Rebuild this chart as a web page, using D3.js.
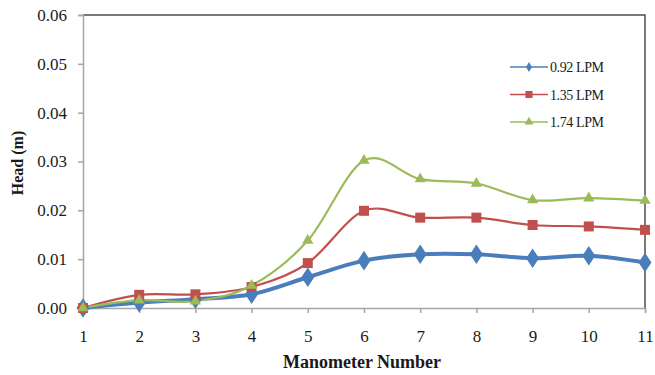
<!DOCTYPE html>
<html>
<head>
<meta charset="utf-8">
<script src="https://cdn.jsdelivr.net/npm/d3@7"></script>
<style>
  html, body { margin: 0; padding: 0; background: #fff; }
  svg { display: block; }
  text { font-family: "Liberation Serif", "Times New Roman", serif; fill: #1a1a1a; }
</style>
</head>
<body>
<svg id="chart" width="655" height="375"></svg>
<script>
// Manometer positions along the pipe
const manometers = [1, 2, 3, 4, 5, 6, 7, 8, 9, 10, 11];

// Head readings (m) for each flow rate
const head092 = [0.0000, 0.0011, 0.0018, 0.0028, 0.0063, 0.0097, 0.0110, 0.0110, 0.0102, 0.0107, 0.0093];
const head135 = [0.0000, 0.0027, 0.0028, 0.0043, 0.0092, 0.0199, 0.0185, 0.0185, 0.0170, 0.0167, 0.0160];
const head174 = [0.0000, 0.0016, 0.0014, 0.0046, 0.0138, 0.0302, 0.0264, 0.0255, 0.0221, 0.0225, 0.0220];

const seriesNames = ["0.92 LPM", "1.35 LPM", "1.74 LPM"];
const yTicks = [0, 0.01, 0.02, 0.03, 0.04, 0.05, 0.06];

const series = [
  { name: seriesNames[0], values: head092, color: "#4A7EBB", width: 4, symbol: d3.symbolDiamond, size: 110, legendSize: 30, legendWidth: 1.3 },
  { name: seriesNames[1], values: head135, color: "#C0504D", width: 2.2, symbol: d3.symbolSquare, size: 100, legendSize: 50, legendWidth: 1.3 },
  { name: seriesNames[2], values: head174, color: "#9BBB59", width: 2.2, symbol: d3.symbolTriangle, size: 55, legendSize: 35, legendWidth: 1.3 }
];

const svg = d3.select("#chart");
const plotLeft = 83, plotRight = 645, plotTop = 15, plotBottom = 308;

const x = d3.scaleLinear().domain([1, 11]).range([plotLeft, plotRight]);
const y = d3.scaleLinear().domain([0, 0.06]).range([plotBottom, plotTop]);

// Plot frame: dark top and right edges
svg.append("path")
  .attr("d", `M${plotLeft},${plotTop}H${plotRight}V${plotBottom}`)
  .attr("fill", "none")
  .attr("stroke", "#4d4d4d")
  .attr("stroke-width", 1.5);

// Y axis
const yAxis = svg.append("g")
  .attr("transform", `translate(${plotLeft},0)`)
  .call(d3.axisLeft(y).tickValues(yTicks).tickFormat(d3.format(".2f")).tickSize(5).tickPadding(11));
yAxis.selectAll("path, line").attr("stroke", "#a6a6a6").attr("stroke-width", 1.5);
yAxis.selectAll("text")
  .style("font-family", "'Liberation Serif', 'Times New Roman', serif")
  .style("font-size", "17px").attr("fill", "#1a1a1a");

// X axis
const xAxis = svg.append("g")
  .attr("transform", `translate(0,${plotBottom})`)
  .call(d3.axisBottom(x).tickValues(manometers).tickFormat(d3.format("d")).tickSize(5).tickPadding(17));
xAxis.selectAll("path, line").attr("stroke", "#a6a6a6").attr("stroke-width", 1.5);
xAxis.selectAll("text")
  .style("font-family", "'Liberation Serif', 'Times New Roman', serif")
  .style("font-size", "17px").attr("fill", "#1a1a1a");

// Axis titles
svg.append("text")
  .attr("x", 362)
  .attr("y", 368)
  .attr("text-anchor", "middle")
  .style("font-size", "18px")
  .style("font-weight", "bold")
  .text("Manometer Number");

svg.append("text")
  .attr("transform", "translate(23,163) rotate(-90)")
  .attr("text-anchor", "middle")
  .style("font-size", "16px")
  .style("font-weight", "bold")
  .text("Head (m)");

// Smoothed lines
const line = d3.line()
  .x((d, i) => x(manometers[i]))
  .y(d => y(d))
  .curve(d3.curveCardinal.tension(0));

const g = svg.append("g");
series.forEach(s => {
  g.append("path")
    .datum(s.values)
    .attr("d", line)
    .attr("fill", "none")
    .attr("stroke", s.color)
    .attr("stroke-width", s.width)
    .attr("stroke-linejoin", "round");
});

// Markers
series.forEach(s => {
  g.selectAll(null)
    .data(s.values)
    .enter()
    .append("path")
    .attr("d", d3.symbol().type(s.symbol).size(s.size))
    .attr("transform", (d, i) => s.symbol === d3.symbolDiamond
      ? `translate(${x(manometers[i])},${y(d)}) scale(1.15,1)`
      : `translate(${x(manometers[i])},${y(d)})`)
    .attr("fill", s.color);
});

// Legend
const legend = svg.append("g").attr("transform", "translate(510,67)");
series.forEach((s, i) => {
  const row = legend.append("g").attr("transform", `translate(0,${i * 27.5})`);
  row.append("line")
    .attr("x1", 0).attr("x2", 38).attr("y1", 0).attr("y2", 0)
    .attr("stroke", s.color).attr("stroke-width", s.legendWidth);
  row.append("path")
    .attr("d", d3.symbol().type(s.symbol).size(s.legendSize))
    .attr("transform", "translate(19,0)")
    .attr("fill", s.color);
  row.append("text")
    .attr("x", 40)
    .attr("y", 5)
    .style("font-size", "14px")
    .style("letter-spacing", "-0.4px")
    .text(s.name);
});
</script>
</body>
</html>
